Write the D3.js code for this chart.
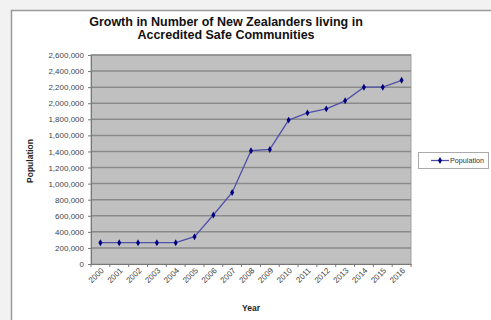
<!DOCTYPE html>
<html><head><meta charset="utf-8">
<script src="https://cdn.jsdelivr.net/npm/d3@7"></script>
<style>
html,body{margin:0;padding:0;background:#f2f2f2;}
svg{display:block;font-family:"Liberation Sans",Arial,sans-serif;}
</style></head>
<body>
<svg id="c" width="491" height="320"></svg>
<script>
const years = ["2000","2001","2002","2003","2004","2005","2006","2007","2008","2009","2010","2011","2012","2013","2014","2015","2016"];
const population = [265000,265000,265000,265000,265000,340000,610000,890000,1410000,1425000,1790000,1880000,1930000,2030000,2200000,2200000,2285000];
const yTicks = [0,200000,400000,600000,800000,1000000,1200000,1400000,1600000,1800000,2000000,2200000,2400000,2600000];
const titleLines = ["Growth in Number of New Zealanders living in","Accredited Safe Communities"];

(function(){
const svg = d3.select("#c");
// chart frame
svg.append("rect").attr("x",11.5).attr("y",10.5).attr("width",490).attr("height",320)
  .attr("fill","#fff").attr("stroke","#9a9a9a").attr("stroke-width",1.5);

const pL=91, pR=411, pT=55, pB=264;
const x = d3.scaleBand().domain(years).range([pL,pR]);
const y = d3.scaleLinear().domain([0,2600000]).range([pB,pT]);

svg.append("rect").attr("x",pL).attr("y",pT).attr("width",pR-pL).attr("height",pB-pT)
  .attr("fill","#c0c0c0").attr("stroke","#a0a0a0");

svg.append("g").selectAll("line").data(yTicks.filter(d=>d>0)).join("line")
  .attr("x1",pL).attr("x2",pR).attr("y1",d=>y(d)).attr("y2",d=>y(d))
  .attr("stroke","#8a8a8a").attr("stroke-width",1.5);

// y axis
const fmt = d3.format(",");
const ya = svg.append("g").attr("transform",`translate(${pL},0)`)
  .call(d3.axisLeft(y).tickValues(yTicks).tickFormat(fmt).tickSize(3).tickPadding(4));
ya.selectAll("text").attr("font-size",8).attr("fill","#444").attr("font-family","Liberation Sans, Arial, sans-serif");
ya.selectAll("line,path").attr("stroke","#777");

// x axis
const xa = svg.append("g").attr("transform",`translate(0,${pB})`)
  .call(d3.axisBottom(x).tickSize(0));
xa.select("path").attr("stroke","#777");
xa.selectAll("text").attr("font-size",8).attr("fill","#444")
  .attr("font-family","Liberation Sans, Arial, sans-serif")
  .attr("x",0).attr("y",0).attr("dy",null)
  .attr("text-anchor","end")
  .attr("transform","translate(4,7) rotate(-45)");
svg.append("g").selectAll("line").data(years.concat(["end"])).join("line")
  .attr("x1",(d,i)=>pL+i*x.step()).attr("x2",(d,i)=>pL+i*x.step())
  .attr("y1",pB).attr("y2",pB+3).attr("stroke","#777");

// line
const line = d3.line().x((d,i)=>x(years[i])+x.bandwidth()/2).y(d=>y(d));
svg.append("path").datum(population).attr("d",line).attr("fill","none")
  .attr("stroke","#5050aa").attr("stroke-width",1.3);
svg.append("g").selectAll("path").data(population).join("path")
  .attr("transform",(d,i)=>`translate(${x(years[i])+x.bandwidth()/2},${y(d)})`)
  .attr("d",d3.symbol(d3.symbolDiamond,14)).attr("fill","#000080");

// title
svg.append("text").attr("text-anchor","middle")
  .attr("font-weight","bold").attr("font-size",12.5).attr("fill","#111")
  .selectAll("tspan").data(titleLines).join("tspan")
  .attr("x",226).attr("y",(d,i)=>26+i*13).text(d=>d);

// axis titles
svg.append("text").attr("transform","translate(33,161) rotate(-90)").attr("text-anchor","middle")
  .attr("font-weight","bold").attr("font-size",8.5).attr("fill","#222").text("Population");
svg.append("text").attr("x",251).attr("y",311).attr("text-anchor","middle")
  .attr("font-weight","bold").attr("font-size",8.5).attr("fill","#222").text("Year");

// legend
const lg = svg.append("g");
lg.append("rect").attr("x",418.5).attr("y",152.5).attr("width",70).attr("height",16)
  .attr("fill","#fff").attr("stroke","#aaa");
lg.append("line").attr("x1",431).attr("x2",449).attr("y1",160.5).attr("y2",160.5)
  .attr("stroke","#5050aa").attr("stroke-width",1.3);
lg.append("path").attr("transform","translate(440,160.5)").attr("d",d3.symbol(d3.symbolDiamond,14)).attr("fill","#000080");
lg.append("text").attr("x",450).attr("y",163).attr("font-size",7.2).attr("fill","#333").text("Population");
})();
</script>
</body></html>
